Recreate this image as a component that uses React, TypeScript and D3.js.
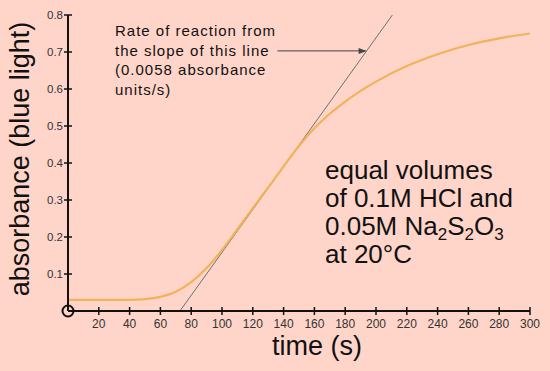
import React, { useEffect, useRef } from 'react';
import * as d3 from 'd3';

// time (s) and absorbance
const times = [0, 20, 40, 50, 60, 70, 80, 90, 100, 110, 120, 130, 140, 150, 160, 170, 180, 190, 200, 220, 240, 260, 280, 300];
const absorbance = [0.03, 0.03, 0.03, 0.032, 0.038, 0.052, 0.078, 0.116, 0.165, 0.221, 0.278, 0.334, 0.391, 0.446, 0.494, 0.533, 0.566, 0.595, 0.62, 0.662, 0.694, 0.719, 0.737, 0.75];

const xTicks = [20, 40, 60, 80, 100, 120, 140, 160, 180, 200, 220, 240, 260, 280, 300];
const yTicks = [0.1, 0.2, 0.3, 0.4, 0.5, 0.6, 0.7, 0.8];

// tangent line: crosses the time axis at t0 with the given slope
const tangentStart = 72.7;
const tangentSlope = 0.0058;
const tangentTop = 0.8;

const noteLines = ['Rate of reaction from', 'the slope of this line', '(0.0058 absorbance', 'units/s)'];

const W = 550;
const H = 371;
const BG = '#FFD5C9';
const CURVE = '#F2B25A';

const App: React.FC = () => {
  const svgRef = useRef<SVGSVGElement>(null);

  useEffect(() => {
    if (!svgRef.current) return;
    const root = d3.select(svgRef.current);
    root.selectAll('*').remove();

    const x = d3.scaleLinear().domain([0, 300]).range([68, 530]);
    const y = d3.scaleLinear().domain([0, 0.8]).range([311, 15]);

    root.append('rect').attr('width', W).attr('height', H).attr('fill', BG);

    const font = 'Arial, "Liberation Sans", sans-serif';

    // tangent line
    const tEnd = tangentStart + tangentTop / tangentSlope;
    root
      .append('line')
      .attr('x1', x(tangentStart))
      .attr('y1', y(0))
      .attr('x2', x(tEnd))
      .attr('y2', y(tangentTop))
      .attr('stroke', '#6f6f6f')
      .attr('stroke-width', 1);

    // curve
    const pts = times.map((t, i) => [t, absorbance[i]] as [number, number]);
    const line = d3
      .line<[number, number]>()
      .x((d) => x(d[0]))
      .y((d) => y(d[1]))
      .curve(d3.curveMonotoneX);
    root
      .append('path')
      .datum(pts)
      .attr('d', line)
      .attr('fill', 'none')
      .attr('stroke', CURVE)
      .attr('stroke-width', 2.2);

    // axes
    const axisCol = '#111';
    root
      .append('line')
      .attr('x1', x(0))
      .attr('x2', x(300))
      .attr('y1', y(0))
      .attr('y2', y(0))
      .attr('stroke', axisCol)
      .attr('stroke-width', 2);
    root
      .append('line')
      .attr('x1', x(0))
      .attr('x2', x(0))
      .attr('y1', y(0))
      .attr('y2', y(0.8))
      .attr('stroke', axisCol)
      .attr('stroke-width', 2);

    root
      .selectAll('.xtick')
      .data(xTicks)
      .enter()
      .append('line')
      .attr('x1', (d) => x(d))
      .attr('x2', (d) => x(d))
      .attr('y1', y(0) - 4)
      .attr('y2', y(0) + 4)
      .attr('stroke', axisCol)
      .attr('stroke-width', 1.5);
    root
      .selectAll('.xlabel')
      .data(xTicks)
      .enter()
      .append('text')
      .attr('x', (d) => x(d))
      .attr('y', y(0) + 17)
      .attr('text-anchor', 'middle')
      .style('font-family', font)
      .style('font-size', '12px')
      .style('fill', '#333')
      .text((d) => d);

    root
      .selectAll('.ytick')
      .data(yTicks)
      .enter()
      .append('line')
      .attr('x1', x(0) - 4)
      .attr('x2', x(0) + 4)
      .attr('y1', (d) => y(d))
      .attr('y2', (d) => y(d))
      .attr('stroke', axisCol)
      .attr('stroke-width', 1.5);
    root
      .selectAll('.ylabel')
      .data(yTicks)
      .enter()
      .append('text')
      .attr('x', x(0) - 5)
      .attr('y', (d) => y(d))
      .attr('dy', '0.35em')
      .attr('text-anchor', 'end')
      .style('font-family', font)
      .style('font-size', '11.5px')
      .style('fill', '#333')
      .text((d) => d.toFixed(1));

    // open circle at the origin
    root
      .append('circle')
      .attr('cx', x(0))
      .attr('cy', y(0))
      .attr('r', 5.5)
      .attr('fill', 'none')
      .attr('stroke', axisCol)
      .attr('stroke-width', 2);

    // axis titles
    root
      .append('text')
      .attr('x', 317)
      .attr('y', 355)
      .attr('text-anchor', 'middle')
      .style('font-family', font)
      .style('font-size', '27px')
      .style('fill', '#111')
      .text('time (s)');
    root
      .append('text')
      .attr('transform', `translate(29,159) rotate(-90)`)
      .attr('text-anchor', 'middle')
      .style('font-family', font)
      .style('font-size', '27px')
      .style('fill', '#111')
      .text('absorbance (blue light)');

    // note with arrow to tangent
    root
      .selectAll('.note')
      .data(noteLines)
      .enter()
      .append('text')
      .attr('x', 115)
      .attr('y', (_d, i) => 36 + i * 19.7)
      .style('font-family', font)
      .style('font-size', '15px')
      .style('letter-spacing', '1px')
      .style('fill', '#111')
      .text((d) => d);

    const arrowV = 0.703;
    const arrowX = x(tangentStart + arrowV / tangentSlope);
    root
      .append('line')
      .attr('x1', x(136))
      .attr('x2', arrowX - 1)
      .attr('y1', y(arrowV))
      .attr('y2', y(arrowV))
      .attr('stroke', '#444')
      .attr('stroke-width', 1);
    root
      .append('path')
      .attr('d', `M${arrowX},${y(arrowV)} l-8,-3 l0,6 z`)
      .attr('fill', '#444');

    // conditions text
    const cond = root
      .append('text')
      .style('font-family', font)
      .style('font-size', '26px')
      .style('fill', '#111');
    cond.append('tspan').attr('x', 325).attr('y', 179).text('equal volumes');
    cond.append('tspan').attr('x', 325).attr('y', 207).text('of 0.1M HCl and');
    const l3 = cond.append('tspan').attr('x', 325).attr('y', 235);
    l3.append('tspan').text('0.05M Na');
    l3.append('tspan').attr('dy', 5).style('font-size', '17px').text('2');
    l3.append('tspan').attr('dy', -5).text('S');
    l3.append('tspan').attr('dy', 5).style('font-size', '17px').text('2');
    l3.append('tspan').attr('dy', -5).text('O');
    l3.append('tspan').attr('dy', 5).style('font-size', '17px').text('3');
    cond.append('tspan').attr('x', 325).attr('y', 263).text('at 20°C');
  }, []);

  return (
    <svg
      ref={svgRef}
      width={W}
      height={H}
      style={{ position: 'absolute', left: 0, top: 0, display: 'block' }}
    />
  );
};

export default App;
